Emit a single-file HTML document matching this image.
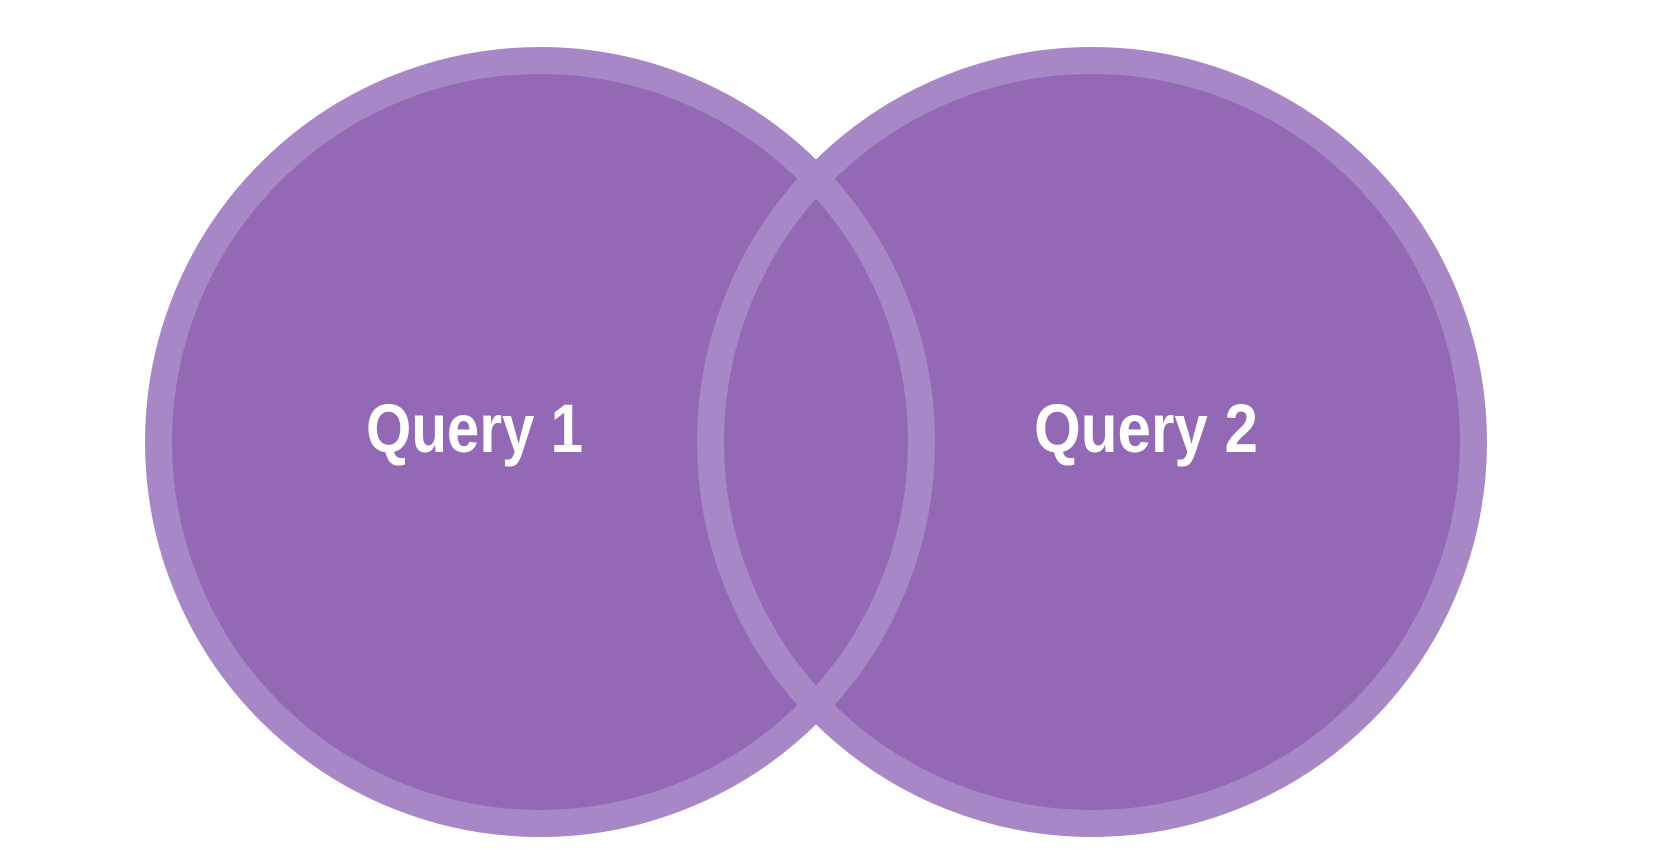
<!DOCTYPE html>
<html><head><style>html,body{margin:0;padding:0;background:#fff;}svg{display:block}</style></head>
<body>
<svg width="1655" height="863" viewBox="0 0 1655 863" xmlns="http://www.w3.org/2000/svg">
<circle cx="540" cy="442" r="381.5" fill="#9369b6"/>
<circle cx="1092" cy="442" r="381.5" fill="#9369b6"/>
<circle cx="540" cy="442" r="381.5" fill="none" stroke="#a887c7" stroke-width="27"/>
<circle cx="1092" cy="442" r="381.5" fill="none" stroke="#a887c7" stroke-width="27"/>
<text x="366" y="452" font-family="Liberation Sans, sans-serif" font-weight="bold" font-size="69" fill="#fff" textLength="217" lengthAdjust="spacingAndGlyphs">Query 1</text>
<text x="1034" y="452" font-family="Liberation Sans, sans-serif" font-weight="bold" font-size="69" fill="#fff" textLength="224" lengthAdjust="spacingAndGlyphs">Query 2</text>
</svg>
</body></html>
